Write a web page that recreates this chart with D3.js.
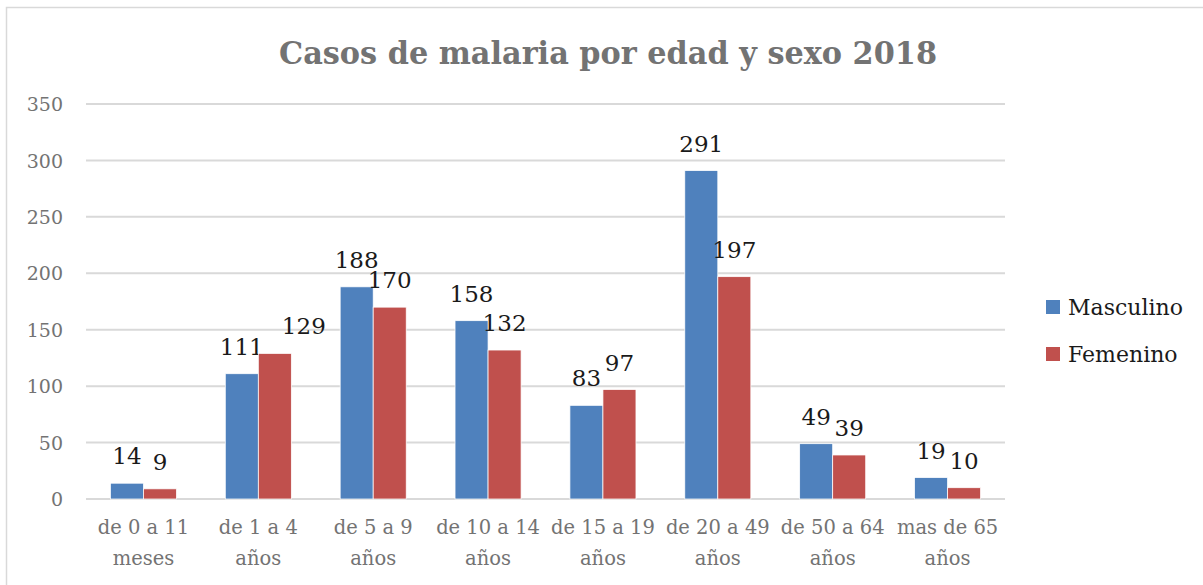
<!DOCTYPE html>
<html><head><meta charset="utf-8">
<script src="https://cdn.jsdelivr.net/npm/d3@7"></script>
<style>body{margin:0;background:#fff}svg{display:block}</style>
</head><body>
<svg id="c" width="1203" height="585"></svg>
<script>
const categories = [["de 0 a 11","meses"],["de 1 a 4","años"],["de 5 a 9","años"],["de 10 a 14","años"],["de 15 a 19","años"],["de 20 a 49","años"],["de 50 a 64","años"],["mas de 65","años"]];
const seriesNames = ["Masculino","Femenino"];
const masculino = [14,111,188,158,83,291,49,19];
const femenino = [9,129,170,132,97,197,39,10];
const yTicks = [0,50,100,150,200,250,300,350];
const colors = ["#4f81bd","#c0504d"];
const title = "Casos de malaria por edad y sexo 2018";

const font = "DejaVu Serif, serif";
const svg = d3.select("#c");
svg.append("rect").attr("x",6.5).attr("y",7.5).attr("width",1210).attr("height",600)
  .attr("fill","#fff").attr("stroke","#d9d9d9").attr("stroke-width",1.5);

const L=86,R=1005,T=104,B=499;
const x0 = d3.scaleBand().domain(d3.range(categories.length)).range([L,R]).paddingInner(0.425).paddingOuter(0.2125);
const x1 = d3.scaleBand().domain([0,1]).range([0,x0.bandwidth()]);
const y = d3.scaleLinear().domain([0,350]).range([B,T]);

svg.append("text").attr("x",608).attr("y",64).attr("text-anchor","middle")
  .attr("font-family",font).attr("font-weight","bold").attr("font-size",31).attr("fill","#737373")
  .attr("textLength",658).attr("lengthAdjust","spacingAndGlyphs").text(title);

const g = svg.append("g");
g.selectAll("line.grid").data(yTicks).join("line").attr("x1",L).attr("x2",R)
  .attr("y1",d=>y(d)).attr("y2",d=>y(d)).attr("stroke","#d9d9d9").attr("stroke-width",2);
const yAxis = d3.axisLeft(y).tickValues(yTicks).tickSize(0).tickPadding(0);
const ya = svg.append("g").attr("transform",`translate(${L-23},0)`).call(yAxis);
ya.select(".domain").remove();
ya.selectAll("text").attr("font-family",font).attr("font-size",19).attr("fill","#737373").attr("dy","0.35em");

const data = categories.map((c,i)=>[masculino[i],femenino[i]]);
const labelDx = {"1-1":29};
data.forEach((vals,i)=>{
  vals.forEach((v,s)=>{
    const bx = x0(i)+x1(s);
    g.append("rect").attr("x",bx).attr("y",y(v)).attr("width",x1.bandwidth()).attr("height",B-y(v))
      .attr("fill",colors[s]).attr("stroke","#fff").attr("stroke-width",0.75);
    g.append("text").attr("x",bx+x1.bandwidth()/2+(labelDx[i+"-"+s]||0)).attr("y",y(v)-19)
      .attr("text-anchor","middle").attr("font-family",font).attr("font-size",23).attr("fill","#1a1a1a").text(v);
  });
});

const xAxis = d3.axisBottom(x0).tickSize(0).tickFormat(()=>"");
const xa = svg.append("g").attr("transform",`translate(0,${B})`).call(xAxis);
xa.select(".domain").remove();
xa.selectAll(".tick").each(function(i){
  const t = d3.select(this).append("text").attr("text-anchor","middle").attr("font-family",font)
    .attr("font-size",19.5).attr("fill","#737373");
  t.append("tspan").attr("x",0).attr("y",35).text(categories[i][0]);
  t.append("tspan").attr("x",0).attr("y",66).text(categories[i][1]);
});

const lg = svg.append("g").attr("transform","translate(1046,300)");
seriesNames.forEach((n,s)=>{
  lg.append("rect").attr("x",0).attr("y",s*47).attr("width",14).attr("height",14).attr("fill",colors[s]);
  lg.append("text").attr("x",22).attr("y",s*47+15).attr("font-family",font).attr("font-size",22).attr("fill","#1a1a1a").text(n);
});
</script>
</body></html>
